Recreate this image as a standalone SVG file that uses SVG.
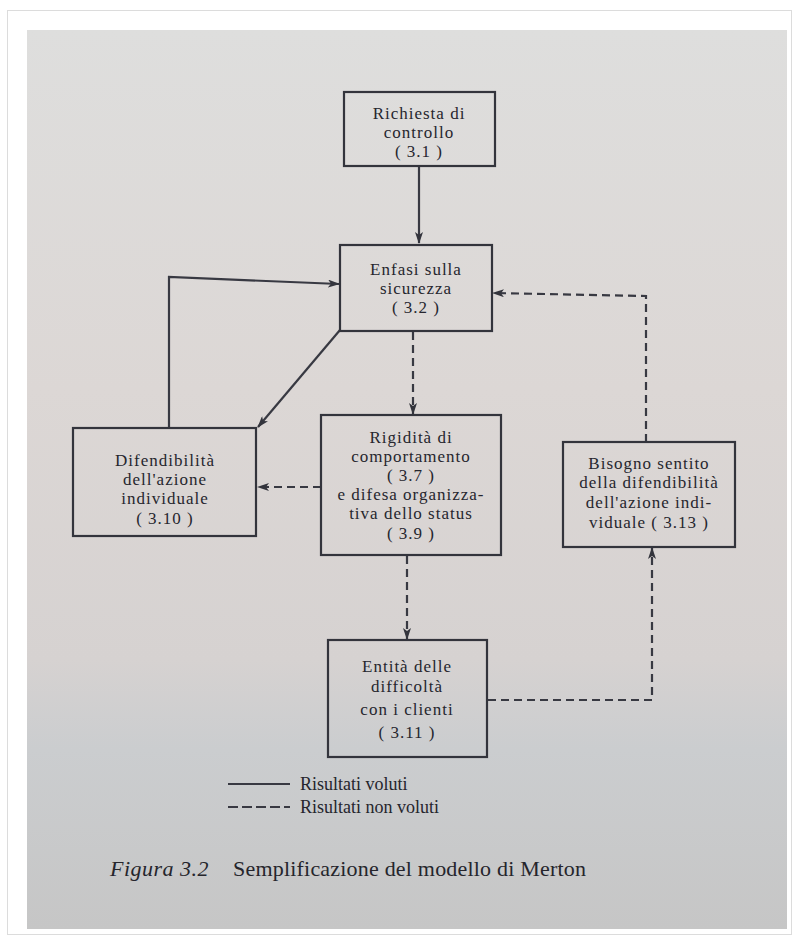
<svg xmlns="http://www.w3.org/2000/svg" width="795" height="938" viewBox="0 0 795 938">
<defs>
<linearGradient id="bg" x1="0" y1="0" x2="0" y2="1">
<stop offset="0" stop-color="#dededd"/>
<stop offset="0.4" stop-color="#dcd7d5"/>
<stop offset="0.7" stop-color="#d6d2d1"/>
<stop offset="0.8" stop-color="#cbcdcf"/>
<stop offset="1" stop-color="#c6c6c6"/>
</linearGradient>
<marker id="ah" viewBox="0 0 12 8" refX="11" refY="4" markerWidth="12" markerHeight="8" markerUnits="userSpaceOnUse" orient="auto">
<path d="M0,0 L12,4 L0,8 L3,4 z" fill="#33343c"/>
</marker>
<style>
.box{fill:none;stroke:#33343c;stroke-width:2.2}
.t{font-family:"Liberation Serif","DejaVu Serif",serif;font-size:17px;letter-spacing:1px;fill:#26262e;text-anchor:middle}
.solid{fill:none;stroke:#383942;stroke-width:2.2}
.dash{fill:none;stroke:#383942;stroke-width:2.2;stroke-dasharray:8 5}
.lg{font-family:"Liberation Serif","DejaVu Serif",serif;font-size:18px;fill:#25252c}
.cap{font-family:"Liberation Serif","DejaVu Serif",serif;font-size:22px;fill:#25252c}
</style>
</defs>
<rect x="0" y="0" width="795" height="938" fill="#ffffff"/>
<rect x="7.5" y="10.5" width="784" height="924" fill="#ffffff" stroke="#dcdcdc" stroke-width="1"/>
<rect x="27" y="30" width="760" height="899" fill="url(#bg)"/>

<g id="connectors">
<path class="solid" d="M419,166 L419,243" marker-end="url(#ah)"/>
<path class="solid" d="M169,428 L169,277 L339,284" marker-end="url(#ah)"/>
<path class="solid" d="M340,330 L258,427" marker-end="url(#ah)"/>
<path class="dash" d="M413,332 L413,414" marker-end="url(#ah)"/>
<path class="dash" d="M321,487 L258,487" marker-end="url(#ah)"/>
<path class="dash" d="M407,556 L407,639" marker-end="url(#ah)"/>
<path class="dash" d="M488,700 L652,700 L652,548" marker-end="url(#ah)"/>
<path class="dash" d="M646,442 L646,296 L493,293" marker-end="url(#ah)"/>
</g>

<g id="n31">
<rect class="box" x="344" y="92" width="151" height="74"/>
<text class="t" x="419" y="119">Richiesta di</text>
<text class="t" x="419" y="138">controllo</text>
<text class="t" x="419" y="157">( 3.1 )</text>
</g>
<g id="n32">
<rect class="box" x="340" y="245" width="152" height="86"/>
<text class="t" x="416" y="275">Enfasi sulla</text>
<text class="t" x="416" y="294">sicurezza</text>
<text class="t" x="416" y="313">( 3.2 )</text>
</g>
<g id="n310">
<rect class="box" x="73" y="428" width="183" height="108"/>
<text class="t" x="165" y="466">Difendibilità</text>
<text class="t" x="165" y="485">dell'azione</text>
<text class="t" x="165" y="504">individuale</text>
<text class="t" x="165" y="524">( 3.10 )</text>
</g>
<g id="n37">
<rect class="box" x="321" y="415" width="180" height="140"/>
<text class="t" x="411" y="443">Rigidità di</text>
<text class="t" x="411" y="462">comportamento</text>
<text class="t" x="411" y="481">( 3.7 )</text>
<text class="t" x="411" y="500">e difesa organizza-</text>
<text class="t" x="411" y="519">tiva dello status</text>
<text class="t" x="411" y="539">( 3.9 )</text>
</g>
<g id="n313">
<rect class="box" x="563" y="442" width="172" height="105"/>
<text class="t" x="649" y="469">Bisogno sentito</text>
<text class="t" x="649" y="488">della difendibilità</text>
<text class="t" x="649" y="508">dell'azione indi-</text>
<text class="t" x="649" y="528">viduale ( 3.13 )</text>
</g>
<g id="n311">
<rect class="box" x="328" y="640" width="159" height="117"/>
<text class="t" x="407" y="672">Entità delle</text>
<text class="t" x="407" y="692">difficoltà</text>
<text class="t" x="407" y="715">con i clienti</text>
<text class="t" x="407" y="738">( 3.11 )</text>
</g>

<g id="legend">
<line class="solid" x1="228" y1="784" x2="290" y2="784" stroke-width="1.5"/>
<text class="lg" x="300" y="790">Risultati voluti</text>
<line class="dash" x1="228" y1="807" x2="290" y2="807" stroke-width="1.5" style="stroke-dasharray:10 4"/>
<text class="lg" x="300" y="813">Risultati non voluti</text>
</g>
<g id="caption">
<text class="cap" x="110" y="876" font-style="italic" letter-spacing="0.5">Figura 3.2</text>
<text class="cap" x="233" y="876" letter-spacing="0.2">Semplificazione del modello di Merton</text>
</g>
</svg>
